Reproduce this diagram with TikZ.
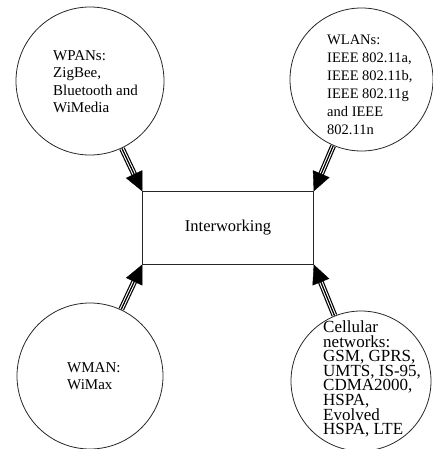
\documentclass[tikz,border=0pt]{standalone}
\usepackage{fontspec}
\setmainfont{Liberation Serif}
\usetikzlibrary{arrows.meta}
\begin{document}
\begin{tikzpicture}[x=1pt,y=-1pt,
  netcirc/.style={circle,draw=black!85,line width=0.8pt,minimum size=#1,inner sep=0pt},
  circtext/.style={anchor=north west,inner sep=0pt,align=left,text=black},
  boxnode/.style={draw=black!85,line width=0.9pt,minimum width=170.6pt,minimum height=72.3pt,inner sep=0pt,font=\fontsize{16.5}{18}\selectfont,text=black},
  shaftout/.style={line width=5.8pt,shorten >=17pt,shorten <=0.4pt},
  shaftin/.style={white,line width=3.4pt,shorten >=17pt,shorten <=0.4pt},
  shaftmid/.style={line width=1.2pt,shorten >=17pt,shorten <=0.4pt},
  headtip/.style={line width=0.4pt,-{Triangle[length=19pt,width=18pt]}},
]
\useasboundingbox (0,0) rectangle (432,449);
\lineskiplimit=-20pt

% nodes
\node[netcirc=148pt] (wpan) at (90,81) {};
\node[netcirc=143pt] (wlan) at (361.5,79.5) {};
\node[netcirc=146pt] (wman) at (90,376) {};
\node[netcirc=140pt] (cell) at (361,381) {};
\node[boxnode] (box) at (228,227.9) {Interworking};

% texts
\node[circtext,font=\fontsize{15}{17.5}\selectfont] (wpant) at (53,50.3)
  {WPANs:\\ZigBee,\\Bluetooth and\\WiMedia};
\node[circtext,font=\fontsize{14.5}{18}\selectfont] (wlant) at (327,35)
  {WLANs:\\IEEE 802.11a,\\IEEE 802.11b,\\IEEE 802.11g\\and IEEE\\802.11n};
\node[circtext,font=\fontsize{15}{17}\selectfont] (wmant) at (67,362)
  {WMAN:\\WiMax};
\node[circtext,font=\fontsize{17}{14.6}\selectfont] (cellt) at (323,320.5)
  {Cellular\\networks:\\GSM, GPRS,\\UMTS, IS-95,\\CDMA2000,\\HSPA,\\Evolved\\HSPA, LTE};

% connectors
\foreach \src/\dst in {wpan/box.north west, wlan/box.north east, wman/box.south west, cell/box.south east}{
  \draw[shaftout] (\src) -- (\dst);
  \draw[shaftin] (\src) -- (\dst);
  \draw[shaftmid] (\src) -- (\dst);
  \draw[headtip] (\src) -- (\dst);
}
\end{tikzpicture}
\end{document}
